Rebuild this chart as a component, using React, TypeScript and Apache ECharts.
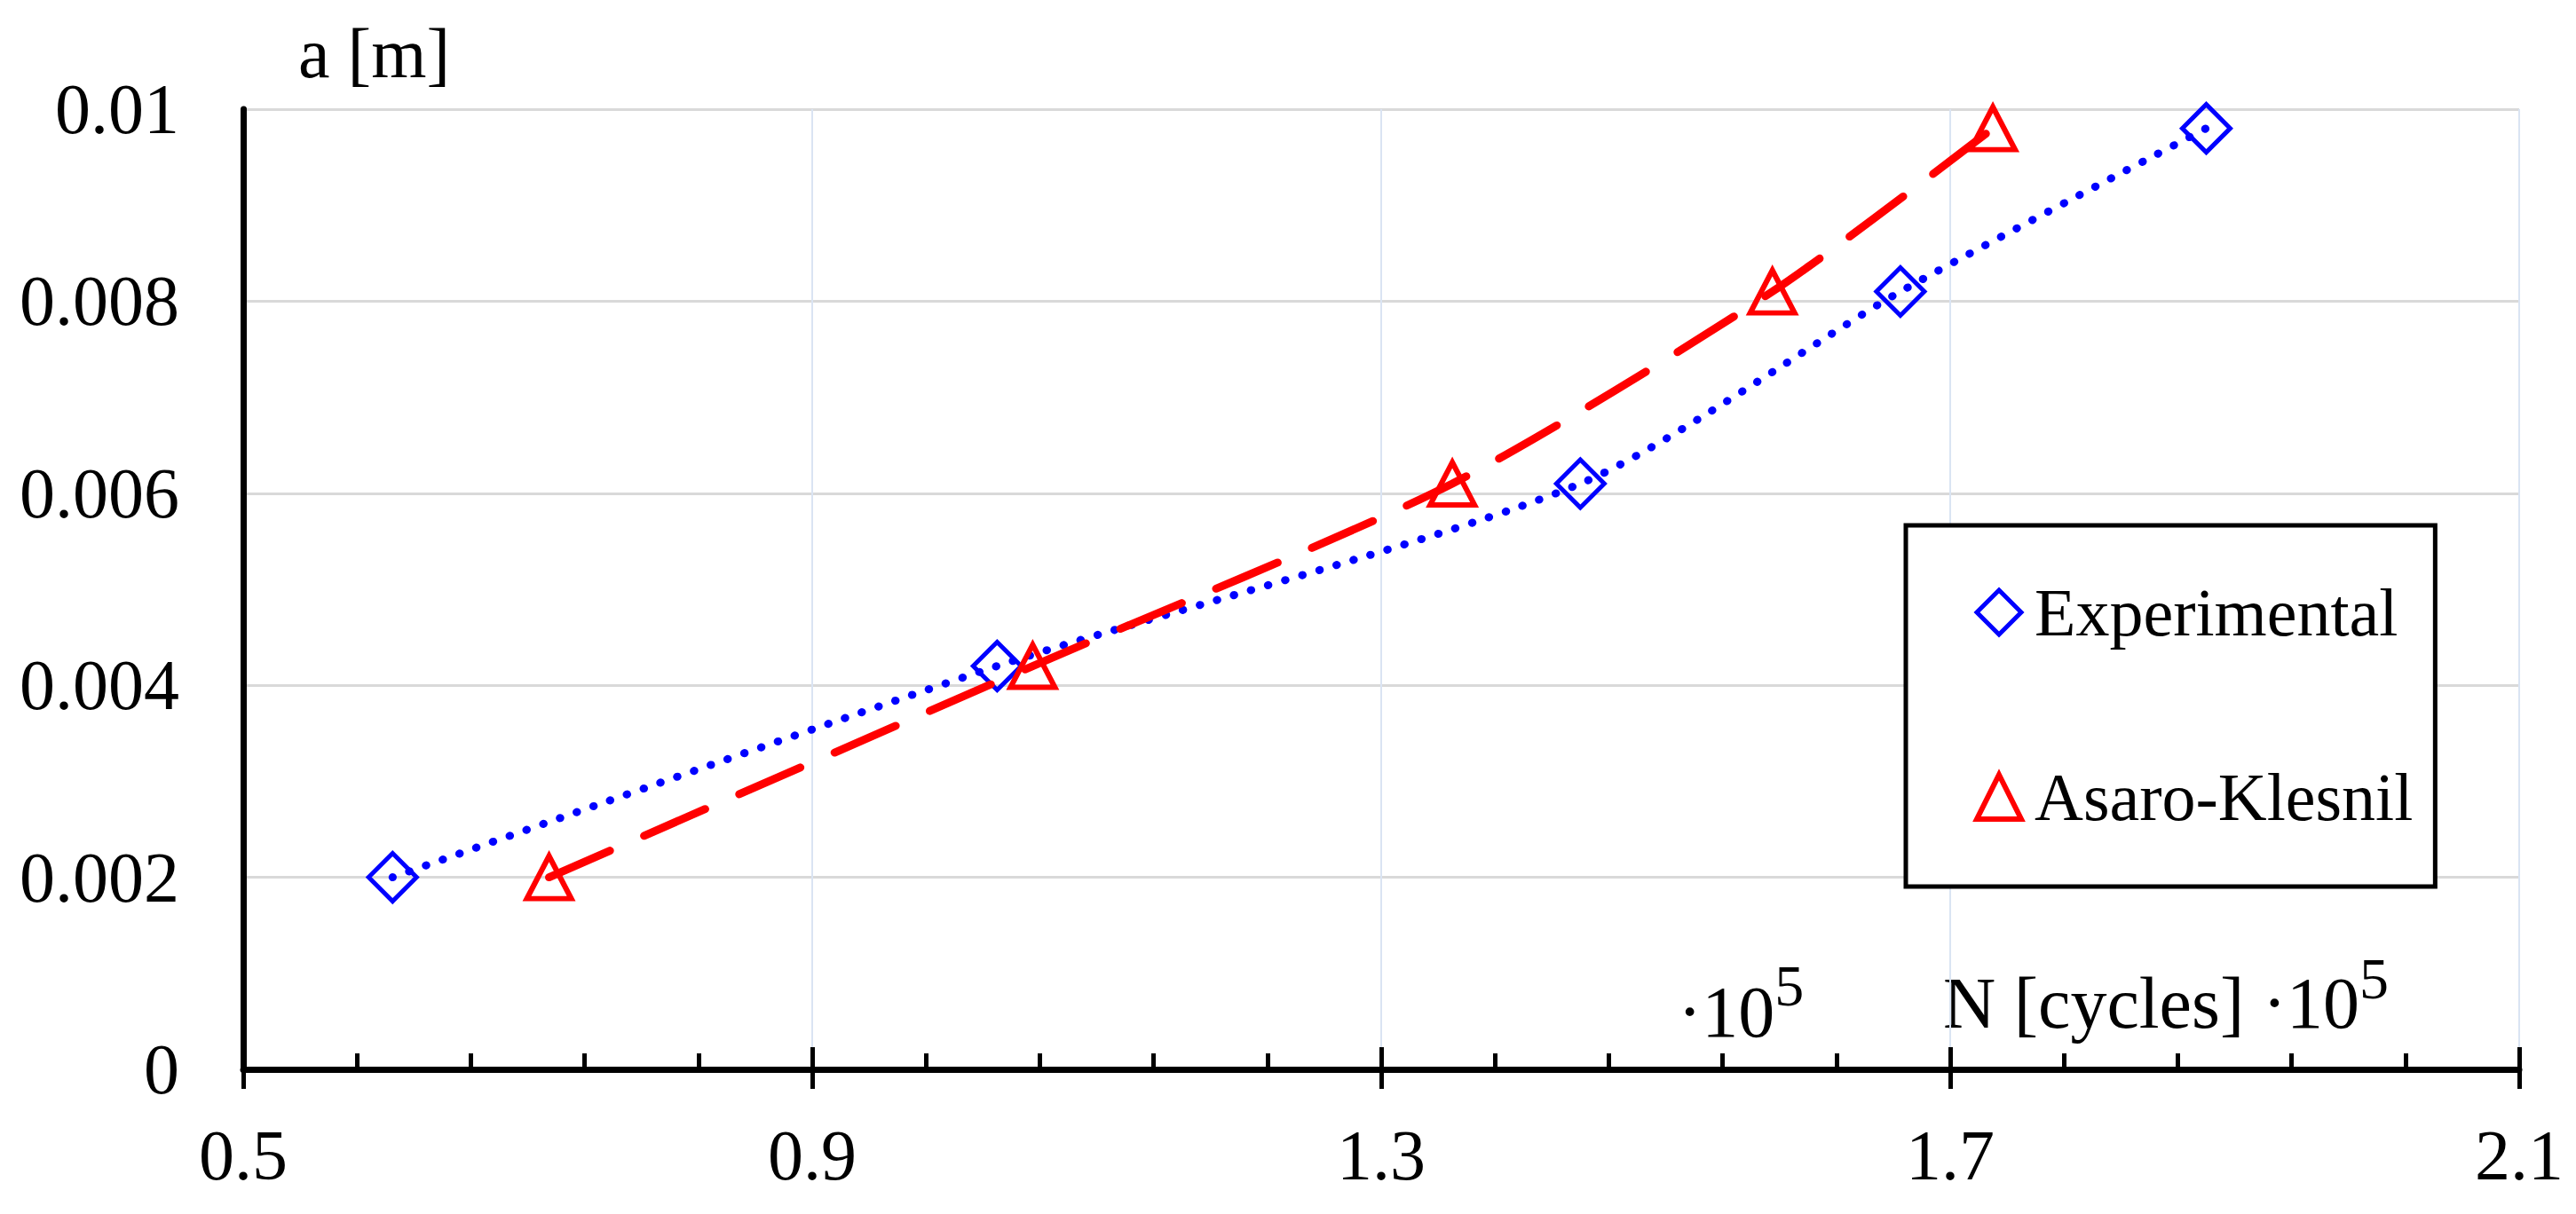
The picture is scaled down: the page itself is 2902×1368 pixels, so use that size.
import React, { useEffect, useRef } from "react";
import * as echarts from "echarts";

// Data (N in 10^5 cycles, a in m)
const experimental: [number, number][] = [
  [0.605, 0.002],
  [1.03, 0.0042],
  [1.44, 0.0061],
  [1.665, 0.0081],
  [1.88, 0.0098],
];
const asaroKlesnil: [number, number][] = [
  [0.715, 0.002],
  [1.055, 0.0042],
  [1.35, 0.0061],
  [1.575, 0.0081],
  [1.73, 0.0098],
];
const seriesNames = ["Experimental", "Asaro-Klesnil"];
const xRange = [0.5, 2.1];
const xStep = 0.4;
const yRange = [0, 0.01];
const yStep = 0.002;
const yAxisName = "a [m]";
const xAxisNameMain = "N [cycles] \u00b710";
const loneFactorMain = "\u00b710";
const superscript = "5";

const FONT = '"Liberation Serif", "Times New Roman", serif';

function textWidth(s: string, size: number): number {
  const c = document.createElement("canvas").getContext("2d");
  if (!c) return s.length * size * 0.5;
  c.font = `${size}px ${FONT}`;
  return c.measureText(s).width;
}

export default function App() {
  const ref = useRef<HTMLDivElement>(null);

  useEffect(() => {
    if (!ref.current) return;
    const chart = echarts.init(ref.current, undefined, { renderer: "svg" });

    const mainSize = 82;
    const supSize = 66;
    const loneX = 1890;
    const rightX = 2189;
    const loneW = textWidth(loneFactorMain, mainSize);
    const rightW = textWidth(xAxisNameMain, mainSize);
    const mid = (baseline: number, size: number) => baseline - 0.34 * size;

    const txt = (text: string, x: number, y: number, size: number) => ({
      type: "text",
      x,
      y,
      silent: true,
      style: {
        text,
        fontSize: size,
        fontFamily: FONT,
        fill: "#000",
        align: "left",
        verticalAlign: "middle",
      },
    });

    chart.setOption({
      animation: false,
      backgroundColor: "#ffffff",
      grid: { left: 274, right: 64, top: 123, bottom: 163, containLabel: false },
      xAxis: [
        {
          type: "value",
          position: "bottom",
          min: xRange[0],
          max: xRange[1],
          interval: xStep,
          axisLine: { show: true, onZero: false, lineStyle: { color: "#000", width: 7 } },
          axisTick: { show: true, inside: true, length: 25, lineStyle: { color: "#000", width: 5 } },
          minorTick: { show: true, splitNumber: 5, length: 18, lineStyle: { color: "#000", width: 5 } },
          splitLine: { show: true, lineStyle: { color: "#dae4f3", width: 2 } },
          axisLabel: {
            margin: 57,
            fontSize: 80,
            fontFamily: FONT,
            color: "#000",
            formatter: (v: number) => v.toFixed(1),
          },
        },
        {
          type: "value",
          position: "bottom",
          min: xRange[0],
          max: xRange[1],
          interval: xStep,
          axisLine: { show: false },
          axisTick: { show: true, inside: false, length: 22, lineStyle: { color: "#000", width: 5 } },
          splitLine: { show: false },
          axisLabel: { show: false },
        },
      ],
      yAxis: {
        type: "value",
        min: yRange[0],
        max: yRange[1],
        interval: yStep,
        name: yAxisName,
        nameLocation: "end",
        nameGap: 23,
        nameTextStyle: {
          fontSize: 80,
          fontFamily: FONT,
          color: "#000",
          align: "left",
          verticalAlign: "bottom",
          padding: [0, 0, 0, 62],
        },
        axisLine: { show: true, lineStyle: { color: "#000", width: 7 } },
        axisTick: { show: false },
        splitLine: { show: true, lineStyle: { color: "#d9d9d9", width: 3 } },
        axisLabel: {
          margin: 72,
          fontSize: 80,
          fontFamily: FONT,
          color: "#000",
          formatter: (v: number) => String(+v.toFixed(3)),
        },
      },
      legend: {
        orient: "vertical",
        left: 2147,
        top: 592,
        padding: [58, 25, 61, 77],
        itemGap: 128,
        itemWidth: 50,
        itemHeight: 50,
        backgroundColor: "#ffffff",
        borderColor: "#000",
        borderWidth: 5,
        textStyle: {
          fontSize: 76,
          lineHeight: 80,
          fontFamily: FONT,
          color: "#000",
          padding: [0, 0, 0, 10],
        },
        data: [
          {
            name: seriesNames[0],
            icon: "diamond",
            itemStyle: { color: "rgba(0,0,0,0)", borderColor: "#0000ff", borderWidth: 5 },
          },
          {
            name: seriesNames[1],
            icon: "triangle",
            itemStyle: { color: "rgba(0,0,0,0)", borderColor: "#ff0000", borderWidth: 6 },
          },
        ],
      },
      series: [
        {
          name: seriesNames[0],
          type: "line",
          xAxisIndex: 0,
          data: experimental,
          smooth: 0.25,
          symbol: "diamond",
          symbolSize: 54,
          itemStyle: { color: "rgba(0,0,0,0)", borderColor: "#0000ff", borderWidth: 5 },
          lineStyle: { color: "#0000ff", width: 9, type: [0.5, 19.5], cap: "round" },
          z: 3,
        },
        {
          name: seriesNames[1],
          type: "line",
          xAxisIndex: 0,
          data: asaroKlesnil,
          smooth: 0.25,
          symbol: "triangle",
          symbolSize: [50, 48],
          itemStyle: { color: "rgba(0,0,0,0)", borderColor: "#ff0000", borderWidth: 6 },
          lineStyle: { color: "#ff0000", width: 9, type: [75, 42], cap: "round" },
          z: 4,
        },
      ],
      graphic: [
        txt(loneFactorMain, loneX, mid(1168, mainSize), mainSize),
        txt(superscript, loneX + loneW, mid(1133, supSize), supSize),
        txt(xAxisNameMain, rightX, mid(1158, mainSize), mainSize),
        txt(superscript, rightX + rightW, mid(1125, supSize), supSize),
      ],
    });

    return () => chart.dispose();
  }, []);

  return (
    <div
      ref={ref}
      style={{
        position: "fixed",
        left: 0,
        top: 0,
        width: 2902,
        height: 1368,
        background: "#fff",
      }}
    />
  );
}
